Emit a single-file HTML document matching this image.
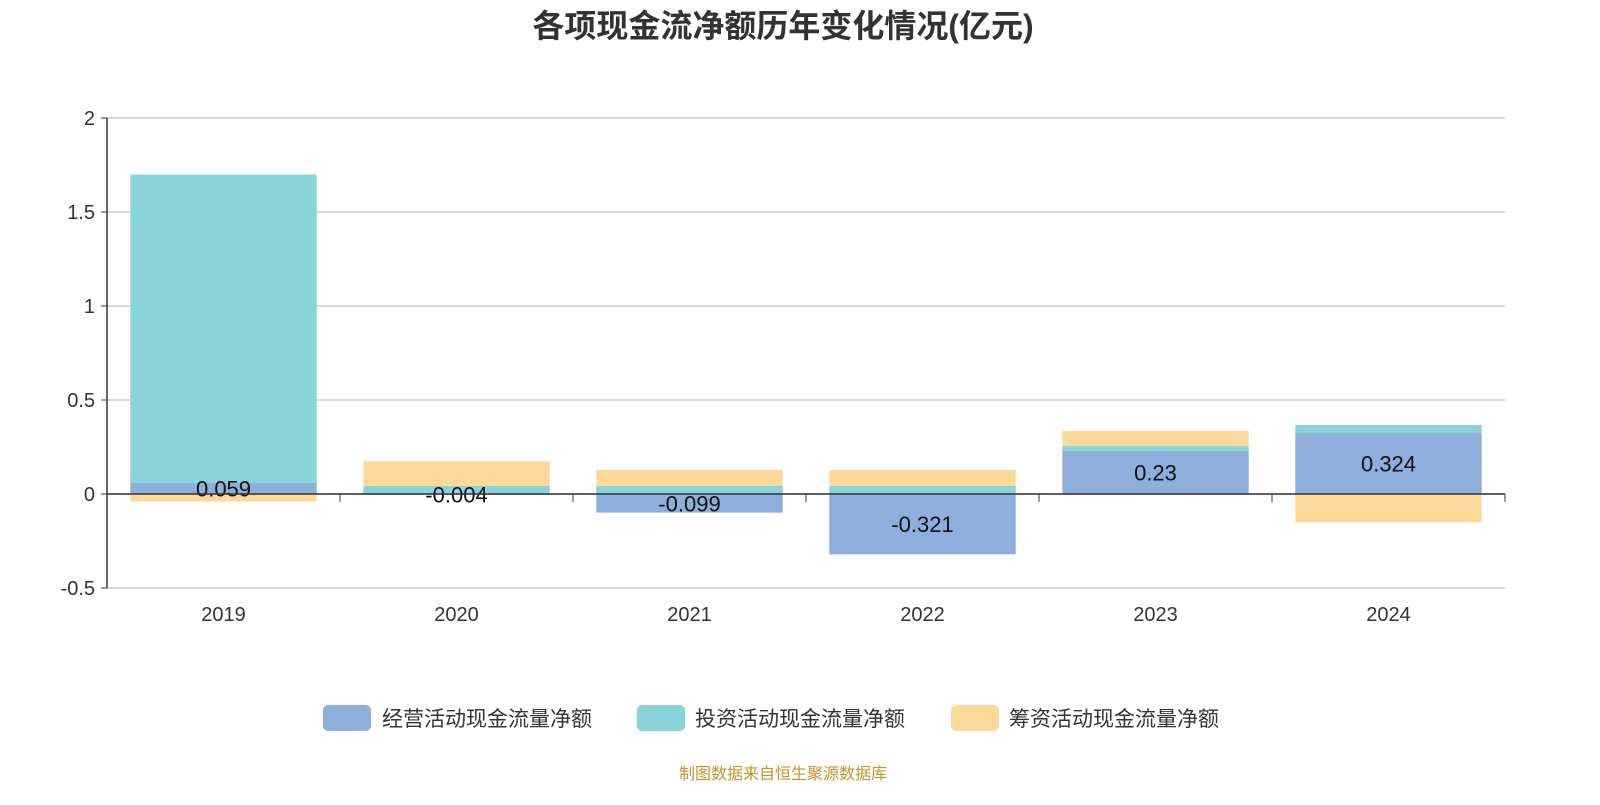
<!DOCTYPE html>
<html><head><meta charset="utf-8"><style>
body{margin:0;background:#fff;}
svg text{font-family:"Liberation Sans","Noto Sans CJK SC",sans-serif;}
</style></head><body>
<svg id="c" width="1600" height="800">
<text x="783" y="37" text-anchor="middle" font-size="32" font-weight="bold" fill="#333">各项现金流净额历年变化情况(亿元)</text>
<g id="grid"></g><g id="bars"></g><g id="axes"></g>
<g>
<rect x="323" y="705" width="48" height="26" rx="5" fill="#8eaedb"/>
<text x="382" y="726" font-size="21" fill="#333">经营活动现金流量净额</text>
<rect x="637" y="705" width="48" height="26" rx="5" fill="#88d4d8"/>
<text x="695" y="726" font-size="21" fill="#333">投资活动现金流量净额</text>
<rect x="951" y="705" width="48" height="26" rx="5" fill="#fdd89a"/>
<text x="1009" y="726" font-size="21" fill="#333">筹资活动现金流量净额</text>
</g>
<text x="783" y="779" text-anchor="middle" font-size="16" fill="#c8902a">制图数据来自恒生聚源数据库</text>
</svg>
<script>
const categories=["2019","2020","2021","2022","2023","2024"];
const operating=[0.059,-0.004,-0.099,-0.321,0.23,0.324];
const investing=[1.64,0.043,0.043,0.043,0.025,0.043];
const financing=[-0.04,0.13,0.085,0.085,0.08,-0.15];
const opLabels=["0.059","-0.004","-0.099","-0.321","0.23","0.324"];
const yTicks=[-0.5,0,0.5,1,1.5,2];
const NS="http://www.w3.org/2000/svg";
const L=107,R=1505,yMin=-0.5,yMax=2,plotTop=118,plotBot=588;
const y=v=>plotBot-(v-yMin)/(yMax-yMin)*(plotBot-plotTop);
const bw=(R-L)/categories.length;
const x=i=>L+bw*i;
function mk(t,a,p){const e=document.createElementNS(NS,t);for(const k in a)e.setAttribute(k,a[k]);p.appendChild(e);return e;}
const grid=document.getElementById('grid'),bars=document.getElementById('bars'),axes=document.getElementById('axes');
yTicks.forEach(v=>{
 const g=mk('line',{x1:L,x2:R,y1:y(v),y2:y(v),stroke:'#ccc','stroke-width':1.5},grid);
 
 
 const t=mk('text',{x:L-12,y:y(v)+7,'text-anchor':'end','font-size':20,fill:'#333'},axes);
 t.textContent=String(v);
 
 
 const tk=mk('line',{x1:L-6,x2:L,y1:y(v),y2:y(v),stroke:'#333'},axes);
 
 
});
const series=[[operating,'#8eaedb','operating'],[investing,'#88d4d8','investing'],[financing,'#fdd89a','financing']];
categories.forEach((c,i)=>{
 let pos=0,neg=0;
 series.forEach(([arr,col,nm])=>{
  const v=arr[i];let a,b;
  if(v>=0){a=pos;b=pos+v;pos=b;}else{a=neg;b=neg+v;neg=b;}
  const r=mk('rect',{x:x(i)+bw*0.1,width:bw*0.8,y:Math.min(y(a),y(b)),height:Math.abs(y(a)-y(b)),fill:col},bars);
  
  
 });
 const v=operating[i];
 const t=mk('text',{x:x(i)+bw/2,y:y(v/2)+8,'text-anchor':'middle','font-size':22,fill:'#111'},bars);
 t.textContent=opLabels[i];
 
 
 const xt=mk('text',{x:x(i)+bw/2,y:621,'text-anchor':'middle','font-size':20,fill:'#333'},axes);
 xt.textContent=c;
 
 
});
for(let i=0;i<=categories.length;i++){
 const tk=mk('line',{x1:x(i),x2:x(i),y1:y(0),y2:y(0)+8,stroke:'#333'},axes);
 
 
}
const xa=mk('line',{x1:L,x2:R,y1:y(0),y2:y(0),stroke:'#333','stroke-width':1.5},axes);


const ya=mk('line',{x1:L,x2:L,y1:plotTop,y2:plotBot,stroke:'#333','stroke-width':1.5},axes);


</script>
</body></html>
